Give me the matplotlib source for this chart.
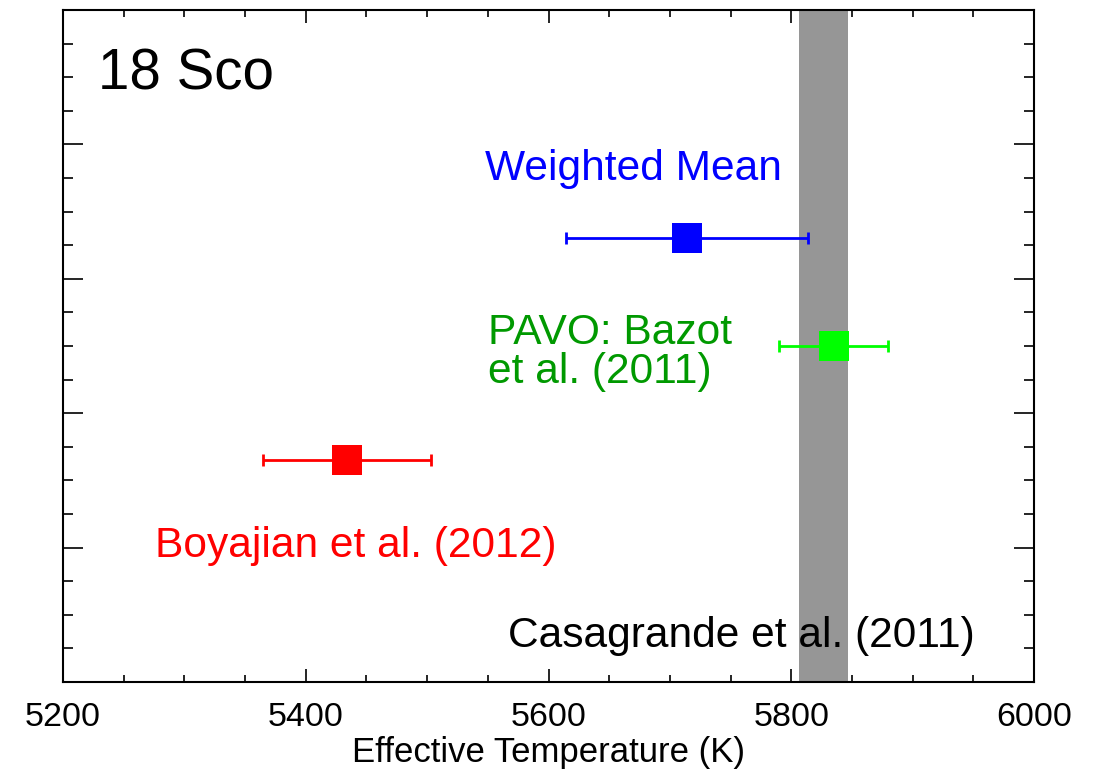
import matplotlib
matplotlib.use("Agg")
import matplotlib.pyplot as plt
from matplotlib.ticker import MultipleLocator, NullFormatter

plt.rcParams['font.family'] = ['Liberation Sans', 'DejaVu Sans']

# Effective temperature measurements for 18 Sco
labels = ["Weighted Mean", "PAVO: Bazot\net al. (2011)", "Boyajian et al. (2012)"]
teff = [5714, 5835, 5434]
teff_err = [100, 45, 69]
ypos = [0.661, 0.500, 0.330]
marker_colors = ["#0000FF", "#00FF00", "#FF0000"]
text_colors = ["#0000FF", "#009900", "#FF0000"]
label_x = [5548, 5550, 5276]
label_y = [0.747, 0.445, 0.1865]

# Casagrande et al. (2011) band
band_center = 5826.5
band_halfwidth = 20.5

fig = plt.figure(figsize=(10.99, 7.71), dpi=100)
ax = fig.add_axes([0.0573, 0.1154, 0.8836, 0.8716])

ax.axvspan(band_center - band_halfwidth, band_center + band_halfwidth,
           color="#969696", lw=0, zorder=1)

for t, e, y, mc in zip(teff, teff_err, ypos, marker_colors):
    ax.errorbar(t, y, xerr=e, fmt='none', ecolor=mc, elinewidth=2,
                capsize=4.5, capthick=2, zorder=3)
    ax.plot(t, y, 's', ms=21.6, mew=0, color=mc, zorder=3.5)

for lab, x, y, c in zip(labels, label_x, label_y, text_colors):
    ax.text(x, y, lab, color=c, fontsize=30.6, ha='left', va='baseline',
            linespacing=0.98, zorder=4)

ax.text(5229, 0.882, "18 Sco", color="black", fontsize=40.7,
        ha='left', va='baseline', zorder=4)
ax.text(5567, 0.0525, "Casagrande et al. (2011)", color="black", fontsize=30.6,
        ha='left', va='baseline', zorder=4)

ax.set_xlim(5200, 6000)
ax.set_ylim(0, 1)
ax.xaxis.set_major_locator(MultipleLocator(200))
ax.xaxis.set_minor_locator(MultipleLocator(50))
ax.yaxis.set_major_locator(MultipleLocator(0.2))
ax.yaxis.set_minor_locator(MultipleLocator(0.05))
ax.yaxis.set_major_formatter(NullFormatter())

ax.tick_params(axis='x', which='major', direction='in', length=9.4, width=1.2,
               top=True, bottom=True, labelsize=24.5, pad=14.5)
ax.tick_params(axis='x', which='minor', direction='in', length=5, width=1.2,
               top=True, bottom=True)
ax.tick_params(axis='y', which='major', direction='in', length=14.4, width=1.2,
               left=True, right=True)
ax.tick_params(axis='y', which='minor', direction='in', length=7.2, width=1.2,
               left=True, right=True)
for s in ax.spines.values():
    s.set_linewidth(1.5)

ax.set_xlabel("Effective Temperature (K)", fontsize=25, labelpad=2)

fig.savefig("out.png", dpi=100)
